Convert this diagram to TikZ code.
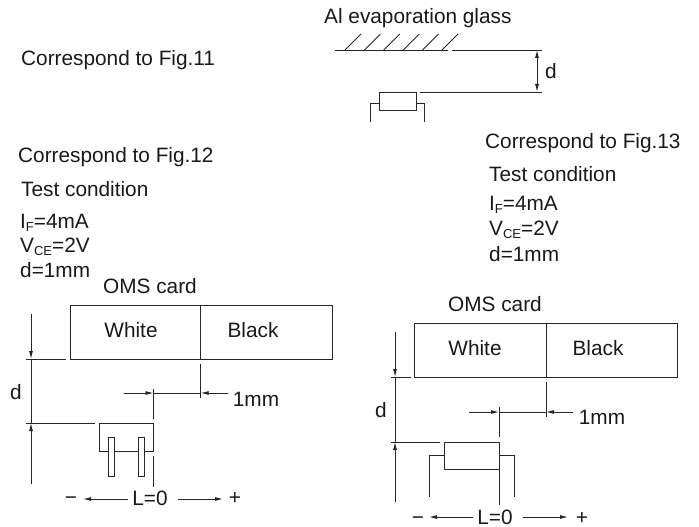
\documentclass[tikz,border=0pt]{standalone}
\usepackage{fontspec}
\setmainfont{Liberation Sans}
\usetikzlibrary{arrows.meta}
\newcommand{\subtxt}[1]{\raisebox{-3pt}{\fontsize{13}{14}\selectfont #1}}
\tikzset{
  lbl/.style={inner sep=0pt,yshift=-4.5pt,font=\fontsize{20.8}{22}\selectfont,text=black!90},
  lblw/.style={lbl,anchor=mid west},
  lblc/.style={lbl,anchor=mid},
  ln/.style={line width=0.9pt,draw=black!85},
  dim/.style={ln,-{Latex[length=8pt,width=4pt]}},
}
\begin{document}
\begin{tikzpicture}[x=1pt,y=-1pt]
\useasboundingbox (0,0) rectangle (699,527);
% Top block
\node[lblw] (t11) at (21,58) {Correspond to Fig.11};
\node[lblw] (alglass) at (324,16) {Al evaporation glass};
\draw[ln] (335,50) -- (448,50);
\draw[ln] (452,50) -- (542,50);
\foreach \hx in {345,364.4,383.8,403.2,422.6,442}
  \draw[ln] (\hx,50) -- ++(16,-16);
\draw[ln] (420,92) -- (542,92);
\coordinate (dtop) at (537,50);
\coordinate (dbot) at (537,92);
\draw[ln,{Latex[length=8pt,width=4pt]}-{Latex[length=8pt,width=4pt]}] (dtop) -- (dbot);
\node[lblc] (dt) at (551,71) {d};
\draw[ln] (379,92) rectangle (416,110);
\draw[ln] (379,103) -- (370,103) -- (370,122);
\draw[ln] (416,103) -- (424,103) -- (424,122);
% Left text
\node[lblw] (t12) at (18,155) {Correspond to Fig.12};
\node[lblw] (tc1) at (21,189) {Test condition};
\node[lblw] (if1) at (20,221) {I\subtxt{F}=4mA};
\node[lblw] (vc1) at (20,245) {V\subtxt{CE}=2V};
\node[lblw] (dd1) at (20,270) {d=1mm};
% Left drawing
\node[lblc] (oms1) at (150,286) {OMS card};
\draw[ln] (70,359) -- (70,305) -- (332,305) -- (332,359) -- (70,359);
\draw[ln] (200.7,305) -- (200.7,359);
\node[lblc] (w1) at (131,330) {White};
\node[lblc] (b1) at (253,330) {Black};
\draw[ln] (26,359) -- (66,359);
\draw[ln] (26,423) -- (95,423);
\draw[dim] (31,314) -- (31,359);
\draw[dim] (31,484) -- (31,423);
\draw[ln] (31,359) -- (31,423);
\node[lblc] (d1) at (16,392) {d};
\draw[ln] (200.7,364) -- (200.7,398);
\draw[ln] (153.5,389) -- (153.5,419);
\draw[dim] (124,393) -- (153.5,393);
\draw[dim] (228,393) -- (200.7,393);
\draw[ln] (153.5,393) -- (200.7,393);
\node[lblc] (mm1) at (256,399) {1mm};
\draw[ln] (153.5,451) -- (99,451) -- (99,423) -- (153.5,423) -- (153.5,451);
\draw[ln,fill=white] (108,437) rectangle (114.7,476);
\draw[ln,fill=white] (138,437) rectangle (144.7,476);
\draw[ln] (153.5,456) -- (153.5,487);
\node[lblc] (l1) at (150,498) {L=0};
\draw[dim] (128,499) -- (83,499);
\draw[dim] (178,499) -- (223,499);
\node[lblc] (m1) at (71,497) {−};
\node[lblc] (p1) at (235,497) {+};
% Right text
\node[lblw] (t13) at (485,141) {Correspond to Fig.13};
\node[lblw] (tc2) at (489,174) {Test condition};
\node[lblw] (if2) at (489,203) {I\subtxt{F}=4mA};
\node[lblw] (vc2) at (489,228) {V\subtxt{CE}=2V};
\node[lblw] (dd2) at (489,254) {d=1mm};
% Right drawing
\node[lblc] (oms2) at (495,304) {OMS card};
\draw[ln] (414,323) rectangle (677,377);
\draw[ln] (546,323) -- (546,377);
\node[lblc] (w2) at (475,348) {White};
\node[lblc] (b2) at (598,348) {Black};
\draw[ln] (391,377) -- (411,377);
\draw[ln] (391,442) -- (440,442);
\draw[dim] (395,332) -- (395,377);
\draw[dim] (395,502) -- (395,442);
\draw[ln] (395,377) -- (395,442);
\node[lblc] (d2) at (381,410) {d};
\draw[ln] (546,382) -- (546,417);
\draw[ln] (499,407) -- (499,437);
\draw[dim] (469,412) -- (499,412);
\draw[dim] (573,412) -- (546,412);
\draw[ln] (499,412) -- (546,412);
\node[lblc] (mm2) at (602,417) {1mm};
\draw[ln] (444,442) rectangle (499,469);
\draw[ln] (444,455) -- (429,455) -- (429,497);
\draw[ln] (499,455) -- (514,455) -- (514,497);
\draw[ln] (499,469) -- (499,505);
\node[lblc] (l2) at (495,517) {L=0};
\draw[dim] (473,517) -- (429,517);
\draw[dim] (523,517) -- (568,517);
\node[lblc] (m2) at (418,517) {−};
\node[lblc] (p2) at (582,517) {+};
\end{tikzpicture}
\end{document}
